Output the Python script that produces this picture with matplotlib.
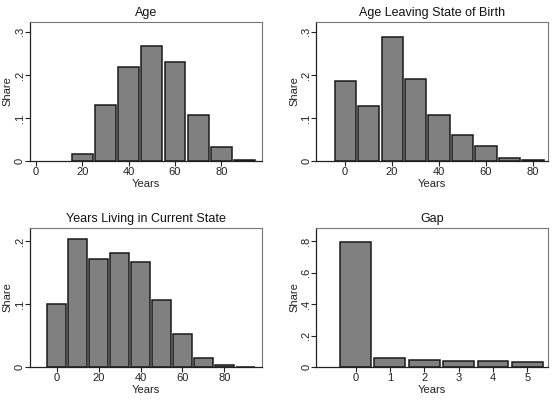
import matplotlib
matplotlib.use("Agg")
import matplotlib.pyplot as plt
import numpy as np

plt.rcParams['font.family'] = ['Liberation Sans', 'DejaVu Sans']

# Data
age_bins = [20, 30, 40, 50, 60, 70, 80, 90]
age_share = [0.016, 0.130, 0.219, 0.266, 0.231, 0.106, 0.033, 0.003]

leave_bins = [0, 10, 20, 30, 40, 50, 60, 70, 80]
leave_share = [0.186, 0.128, 0.287, 0.190, 0.106, 0.061, 0.036, 0.008, 0.002]

live_bins = [0, 10, 20, 30, 40, 50, 60, 70, 80, 90]
live_share = [0.1005, 0.204, 0.171, 0.182, 0.167, 0.106, 0.052, 0.014, 0.003, 0.0007]

gap_bins = [0, 1, 2, 3, 4, 5]
gap_share = [0.796, 0.055, 0.044, 0.040, 0.038, 0.034]

panels = [
    dict(title="Age", x=age_bins, y=age_share, w=10,
         xticks=[0, 20, 40, 60, 80], xlim=(-2.8, 97.6),
         yticks=[0, 0.1, 0.2, 0.3], ylabels=["0", ".1", ".2", ".3"], ylim=(0, 0.324),
         rect=(29.5, 21.5, 262, 161)),
    dict(title="Age Leaving State of Birth", x=leave_bins, y=leave_share, w=10,
         xticks=[0, 20, 40, 60, 80], xlim=(-12.4, 86.4),
         yticks=[0, 0.1, 0.2, 0.3], ylabels=["0", ".1", ".2", ".3"], ylim=(0, 0.324),
         rect=(316, 21.5, 548, 161)),
    dict(title="Years Living in Current State", x=live_bins, y=live_share, w=10,
         xticks=[0, 20, 40, 60, 80], xlim=(-13.1, 98),
         yticks=[0, 0.1, 0.2], ylabels=["0", ".1", ".2"], ylim=(0, 0.221),
         rect=(29.5, 228, 262, 367)),
    dict(title="Gap", x=gap_bins, y=gap_share, w=1,
         xticks=[0, 1, 2, 3, 4, 5], xlim=(-1.15, 5.6),
         yticks=[0, 0.2, 0.4, 0.6, 0.8], ylabels=["0", ".2", ".4", ".6", ".8"], ylim=(0, 0.885),
         rect=(316, 228, 548, 367)),
]

W, H = 552, 403
fig = plt.figure(figsize=(W / 100, H / 100), dpi=100)

for p in panels:
    l, t, r, b = p["rect"]
    ax = fig.add_axes([l / W, 1 - b / H, (r - l) / W, (b - t) / H])
    ax.bar(p["x"], p["y"], width=p["w"] * 0.9, color="#808080",
           edgecolor="#1a1a1a", linewidth=1.1)
    ax.set_xlim(*p["xlim"])
    ax.set_ylim(*p["ylim"])
    ax.set_xticks(p["xticks"])
    ax.set_yticks(p["yticks"])
    ax.set_yticklabels(p["ylabels"], rotation=90, va="center")
    ax.set_title(p["title"], fontsize=9, pad=4, color="#111111")
    ax.set_xlabel("Years", fontsize=8, labelpad=1, color="#222222")
    ax.set_ylabel("Share", fontsize=8, color="#222222")
    ax.yaxis.set_label_coords(-17.0 / (r - l), 0.5)
    ax.tick_params(axis="x", labelsize=8, length=3.5, width=0.8,
                   colors="#222222", pad=1)
    ax.tick_params(axis="y", labelsize=8, length=3.5, width=0.8,
                   colors="#222222", pad=0)
    for s in ["top", "right"]:
        ax.spines[s].set_color("#777777")
        ax.spines[s].set_linewidth(0.8)
    for s in ["left", "bottom"]:
        ax.spines[s].set_color("#222222")
        ax.spines[s].set_linewidth(0.9)

fig.savefig("out.png", dpi=100)
